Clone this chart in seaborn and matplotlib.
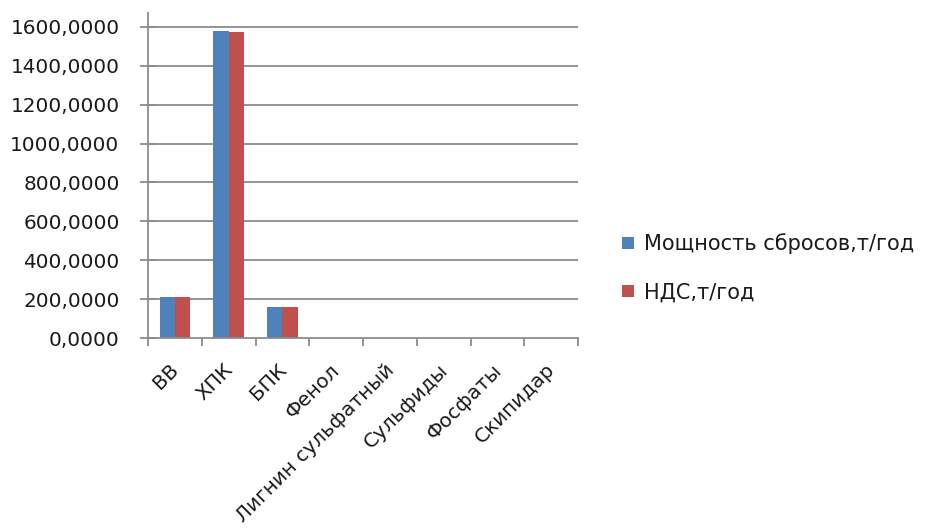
import numpy as np
import pandas as pd
import matplotlib
matplotlib.use("Agg")
import matplotlib.pyplot as plt
import matplotlib.transforms as mtransforms
from matplotlib.ticker import FuncFormatter, FixedLocator
import seaborn as sns

categories = ["ВВ", "ХПК", "БПК", "Фенол", "Лигнин сульфатный",
              "Сульфиды", "Фосфаты", "Скипидар"]
discharge = [210.0, 1581.0, 158.0, 0.01, 0.5, 0.02, 0.3, 0.05]
nds = [210.0, 1572.0, 158.0, 0.01, 0.5, 0.02, 0.3, 0.05]
series_names = ["Мощность сбросов,т/год", "НДС,т/год"]
colors = ["#4F81BD", "#C0504D"]

df = pd.DataFrame({
    "Показатель": categories * 2,
    "Значение": discharge + nds,
    "Серия": [series_names[0]] * len(categories) + [series_names[1]] * len(categories),
})

sns.set_theme(style="white")
plt.rcParams["font.family"] = ["DejaVu Sans"]

fs = 14.4
text_color = "#1a1a1a"

fig = plt.figure(figsize=(9.27, 5.31), dpi=100)
ax = fig.add_axes([148 / 927, 1 - 338 / 531, 430 / 927, 325 / 531])

sns.barplot(data=df, x="Показатель", y="Значение", hue="Серия",
            palette=colors, width=0.57, dodge=True, gap=0,
            saturation=1, linewidth=0, ax=ax, legend=True)

ax.set_xlim(-0.5, len(categories) - 0.5)
ax.set_ylim(0, 1672)
ax.set_xlabel("")
ax.set_ylabel("")

grid_color = "#8c8c8c"
yt = np.arange(0, 1601, 200)
ax.set_yticks(yt)
ax.yaxis.set_major_formatter(FuncFormatter(lambda v, p: f"{v:.4f}".replace(".", ",")))
for y in yt[1:]:
    ax.axhline(y, color=grid_color, lw=1.3, zorder=0)

for s in ["top", "right"]:
    ax.spines[s].set_visible(False)
for s in ["left", "bottom"]:
    ax.spines[s].set_color(grid_color)
    ax.spines[s].set_linewidth(1.3)

ax.tick_params(axis="y", which="major", direction="inout", length=12, width=1.3,
               color=grid_color, labelsize=fs, labelcolor=text_color, pad=14.5, left=True)
ax.set_xticks(range(len(categories)))
ax.set_xticklabels(categories, rotation=45, ha="right", rotation_mode="anchor")
ax.tick_params(axis="x", which="major", length=0, labelsize=fs,
               labelcolor=text_color, pad=16)
ax.xaxis.set_minor_locator(FixedLocator(np.arange(-0.5, len(categories), 1.0)))
ax.tick_params(axis="x", which="minor", direction="out", length=6, width=1.3,
               color=grid_color, bottom=True)

# nudge rotated category labels slightly left
shift = mtransforms.ScaledTranslation(-4 / 72, 0, fig.dpi_scale_trans)
for lbl in ax.get_xticklabels():
    lbl.set_transform(lbl.get_transform() + shift)

handles, labels = ax.get_legend_handles_labels()
ax.legend(handles, labels, loc="center left", bbox_to_anchor=(614 / 927, 1 - 268 / 531),
          bbox_transform=fig.transFigure, frameon=False, fontsize=15,
          labelcolor=text_color,
          handlelength=0.55, handleheight=0.55, handletextpad=0.5,
          labelspacing=1.35, borderaxespad=0)

fig.savefig("out.png", dpi=100, facecolor="white")
